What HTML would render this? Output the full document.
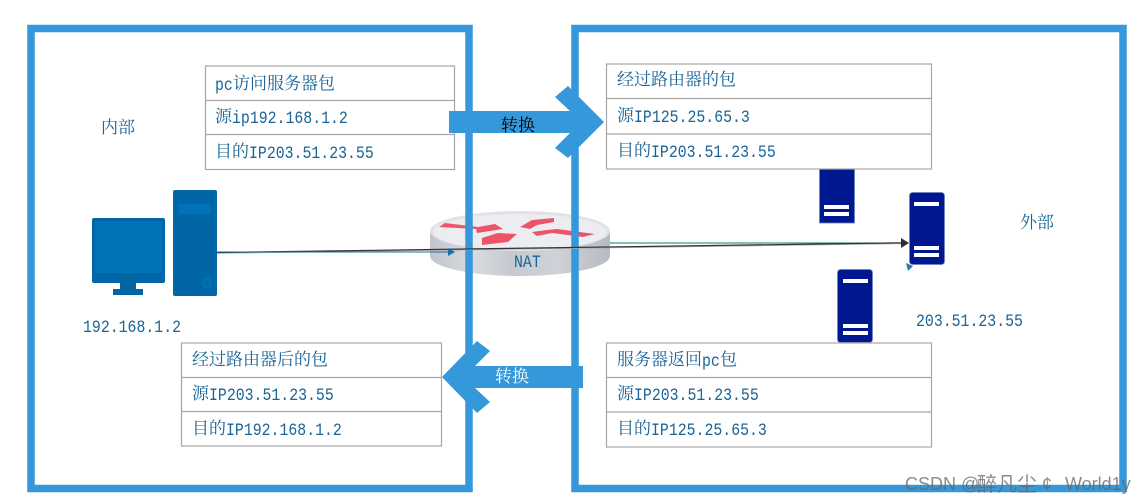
<!DOCTYPE html>
<html><head><meta charset="utf-8"><style>
html,body{margin:0;padding:0;background:#fff;width:1148px;height:504px;overflow:hidden}
svg{display:block}
text{font-family:"Liberation Mono","Noto Serif CJK SC",monospace;font-size:18px;fill:#1a6496}
.c{font-size:17px}
rect.t{fill:#fff;stroke:#a6a6a6;stroke-width:1.2}
line.t{stroke:#a6a6a6;stroke-width:1.2}
.w{font-family:"Liberation Sans","Noto Sans CJK SC",sans-serif;font-size:18px;fill:#666;fill-opacity:.75}
</style></head><body>
<svg width="1148" height="504" viewBox="0 0 1148 504" xmlns="http://www.w3.org/2000/svg">
<defs>
<linearGradient id="side" x1="0" x2="1" y1="0" y2="0">
<stop offset="0" stop-color="#c2c5cc"/><stop offset=".25" stop-color="#d8dade"/><stop offset=".45" stop-color="#c6c9d0"/><stop offset=".7" stop-color="#cfd2d8"/><stop offset="1" stop-color="#b8bbc3"/>
</linearGradient>
</defs>

<!-- router -->
<path d="M430 232V256A90 20 0 0 0 610 256V232Z" fill="url(#side)"/>
<ellipse cx="520" cy="231" rx="90" ry="20" fill="#e0e2e7"/>
<ellipse cx="520" cy="232" rx="87" ry="18" fill="#ecedf1"/>
<g fill="#ee5469">
<polygon points="439,227 445,223 478,227 495,224 503,229 477,233 476,229"/>
<polygon points="482,238 498,233 517,234 508,242 482,245"/>
<polygon points="520,227 532,220 554,218 554,222 537,225 530,229"/>
<polygon points="532,232 537,236 552,233 583,237 595,234 557,229 547,230"/>
</g>

<!-- frames -->
<rect x="31" y="28.500" width="438" height="460" fill="none" stroke="#3498db" stroke-width="7.500"/>
<rect x="575" y="28.500" width="548" height="460" fill="none" stroke="#3498db" stroke-width="7.500"/>

<!-- servers -->
<g fill="#00188f" stroke="#6f82bd" stroke-width=".8">
<rect x="819.500" y="165" width="35" height="58"/>
<rect x="909.500" y="192.500" width="35" height="72" rx="3"/>
<rect x="837.500" y="269.500" width="35" height="73" rx="3"/>
</g>
<g fill="#fff">
<rect x="824" y="205" width="25" height="4"/><rect x="824" y="212" width="25" height="4"/>
<rect x="914" y="202" width="25" height="4"/><rect x="914" y="246" width="25" height="4"/><rect x="914" y="253" width="25" height="4"/>
<rect x="843" y="279" width="25" height="4"/><rect x="843" y="324" width="25" height="4"/><rect x="843" y="331" width="25" height="4"/>
</g>
<polygon points="906,263 913,266 908,271" fill="#2a7ab0"/>

<!-- PC -->
<rect x="92" y="218" width="73" height="65" rx="2" fill="#0066a6"/>
<rect x="95" y="221" width="67" height="52" fill="#0072b8"/>
<rect x="120" y="283" width="16" height="7" fill="#0066a6"/>
<rect x="113" y="289" width="30" height="6" fill="#0066a6"/>
<rect x="173" y="190" width="44" height="106" rx="2" fill="#0066a6"/>
<rect x="179" y="204" width="32" height="10" fill="#0072b8"/>
<ellipse cx="207" cy="283" rx="5" ry="6" fill="#0072b8"/>
<ellipse cx="207" cy="283" rx="2.200" ry="2.800" fill="#0066a6"/>

<!-- tables -->
<rect class="t" x="205.500" y="66" width="249" height="103.500"/>
<line class="t" x1="205" x2="455" y1="100.500" y2="100.500"/><line class="t" x1="205" x2="455" y1="134.500" y2="134.500"/>
<rect class="t" x="606.500" y="64" width="325" height="105"/>
<line class="t" x1="606" x2="932" y1="98.500" y2="98.500"/><line class="t" x1="606" x2="932" y1="134" y2="134"/>
<rect class="t" x="181.500" y="343" width="260" height="103"/>
<line class="t" x1="181" x2="442" y1="377.500" y2="377.500"/><line class="t" x1="181" x2="442" y1="411.500" y2="411.500"/>
<rect class="t" x="606.500" y="343" width="325" height="104"/>
<line class="t" x1="606" x2="932" y1="377.500" y2="377.500"/><line class="t" x1="606" x2="932" y1="412" y2="412"/>

<!-- connectors -->
<line x1="610" y1="243" x2="905" y2="243" stroke="#0f7d6b" stroke-width="1"/>
<line x1="217" y1="253.300" x2="903" y2="243.600" stroke="#aaa" stroke-width="1"/>
<line x1="217" y1="252.500" x2="903" y2="242.800" stroke="#333" stroke-width="1.200"/>
<polygon points="909,243 901,238 901,248" fill="#2d2d2d"/>
<line x1="217" y1="252" x2="450" y2="252" stroke="#1a6ea8" stroke-width="1"/>
<polygon points="455,252 448,248 448,256" fill="#1a6ea8"/>

<!-- block arrows -->
<polygon points="449,111 570,111 555,97 568,86 604,122 568,158 555,148 570,133 449,133" fill="#3498db"/>
<polygon points="583,366 475,366 490,351 477,341 442,377 477,413 490,402 475,388 583,388" fill="#3498db"/>

<!-- table text: T1 -->
<text transform="translate(215,90) scale(.825,1)">pc</text><text x="233" y="89" class="c">访问服务器包</text>
<text x="215" y="122" class="c">源</text><text transform="translate(232,123) scale(.825,1)">ip192.168.1.2</text>
<text x="215" y="157" class="c">目的</text><text transform="translate(249,158) scale(.825,1)">IP203.51.23.55</text>

<!-- T2 -->
<text x="617" y="85" class="c">经过路由器的包</text>
<text x="617" y="121" class="c">源</text><text transform="translate(634,122) scale(.825,1)">IP125.25.65.3</text>
<text x="617" y="156" class="c">目的</text><text transform="translate(651,157) scale(.825,1)">IP203.51.23.55</text>

<!-- T3 -->
<text x="192" y="365" class="c">经过路由器后的包</text>
<text x="192" y="399" class="c">源</text><text transform="translate(209,400) scale(.825,1)">IP203.51.23.55</text>
<text x="192" y="434" class="c">目的</text><text transform="translate(226,435) scale(.825,1)">IP192.168.1.2</text>

<!-- T4 -->
<text x="617" y="365" class="c">服务器返回</text><text transform="translate(702,366) scale(.825,1)">pc</text><text x="720" y="365" class="c">包</text>
<text x="617" y="399" class="c">源</text><text transform="translate(634,400) scale(.825,1)">IP203.51.23.55</text>
<text x="617" y="434" class="c">目的</text><text transform="translate(651,435) scale(.825,1)">IP125.25.65.3</text>

<!-- labels -->
<text x="101" y="133" class="c">内部</text>
<text x="1020" y="228" class="c">外部</text>
<text transform="translate(83,332) scale(.825,1)">192.168.1.2</text>
<text transform="translate(916,326) scale(.825,1)">203.51.23.55</text>
<text transform="translate(514,267) scale(.825,1)">NAT</text>
<text x="501" y="131" class="c" style="fill:#000">转换</text>
<text x="495" y="382" class="c" style="fill:#fff">转换</text>

<!-- watermark -->
<text class="w" x="905" y="490">CSDN</text>
<text class="w" x="961" y="490">@</text>
<text class="w" x="977" y="491" style="font-size:20px">醉凡尘</text>
<text class="w" x="1042" y="490">¢</text>
<text class="w" x="1065" y="490">World1y</text>
</svg>
</body></html>
